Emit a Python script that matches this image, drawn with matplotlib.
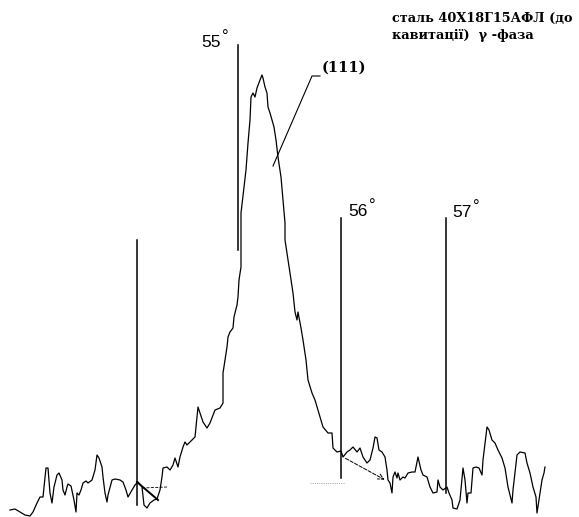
import matplotlib
matplotlib.use("Agg")
import matplotlib.pyplot as plt

# strip-chart position (x) and recorder deflection (intensity, a.u.)
chart_pos = [10, 15, 20, 25, 30, 33, 37, 40, 43, 46, 48, 50, 52, 54, 57, 59, 62, 63, 65, 67,
             68, 71, 73, 74, 76, 77, 79, 81, 83, 86, 88, 92, 95, 97, 99, 102, 103, 105, 107, 108,
             112, 115, 120, 123, 126, 128, 132, 135, 138, 142, 144, 147, 150, 154, 157, 160, 162, 163, 167, 170,
             173, 175, 178, 180, 183, 185, 187, 192, 195, 198, 200, 203, 207, 210, 215, 220, 223, 223, 223, 227,
             228, 230, 233, 234, 237, 238, 239, 241, 241, 241, 246, 248, 250, 251, 253, 255, 257, 260, 262, 263,
             265, 267, 268, 270, 272, 274, 276, 278, 281, 283, 285, 285, 287, 290, 293, 295, 297, 298, 301, 303,
             306, 308, 312, 315, 318, 323, 328, 332, 333, 337, 341, 343, 347, 350, 353, 357, 360, 363, 367, 370,
             373, 375, 377, 379, 382, 385, 387, 388, 390, 392, 393, 395, 397, 398, 400, 403, 405, 408, 412, 415,
             418, 421, 423, 427, 430, 433, 437, 438, 440, 443, 447, 449, 452, 453, 457, 460, 463, 465, 467, 468,
             471, 473, 476, 479, 482, 483, 487, 489, 492, 495, 498, 502, 505, 508, 512, 513, 517, 520, 525, 527,
             530, 533, 536, 537, 539, 542, 544, 545]
intensity = [7, 8, 5, 2, 1, 5, 14, 20, 20, 49, 49, 24, 14, 30, 42, 44, 37, 27, 22, 30,
             33, 31, 22, 17, 5, 24, 22, 27, 34, 36, 34, 37, 47, 62, 59, 50, 40, 24, 15, 22,
             37, 38, 37, 35, 27, 20, 27, 32, 35, 30, 12, 9, 14, 17, 18, 27, 40, 49, 50, 47,
             52, 59, 50, 60, 70, 75, 72, 77, 80, 110, 104, 95, 89, 94, 107, 109, 114, 137, 144, 170,
             180, 185, 189, 200, 212, 220, 237, 250, 277, 304, 347, 374, 397, 420, 424, 420, 429, 437, 442, 439,
             430, 424, 410, 404, 397, 390, 377, 360, 340, 317, 294, 277, 264, 244, 224, 205, 197, 205, 189, 177,
             157, 137, 124, 117, 107, 90, 84, 84, 69, 65, 66, 60, 65, 67, 70, 65, 69, 60, 54, 57,
             69, 80, 79, 67, 65, 60, 47, 37, 34, 24, 40, 45, 39, 44, 37, 40, 39, 44, 45, 45,
             60, 47, 42, 40, 30, 24, 25, 37, 30, 27, 30, 24, 17, 9, 8, 17, 49, 37, 14, 24,
             24, 49, 50, 49, 42, 57, 90, 87, 77, 74, 67, 59, 49, 30, 14, 27, 62, 65, 64, 54,
             44, 30, 20, 4, 17, 37, 44, 50]

# 2-theta reference marks on the chart
mark_pos = [137, 238, 341, 446]
mark_top = [277, 472, 299, 299]
mark_bottom = [12, 267, 39, 24]
mark_labels = ["", "55", "56", "57"]
label_pos = [(0, 0), (201, 470), (348, 301), (452, 300)]

title_lines = ["сталь 40Х18Г15АФЛ (до", "кавитації)  γ -фаза"]

fig = plt.figure(figsize=(5.79, 5.17), dpi=100)
ax = fig.add_axes([0, 0, 1, 1])
ax.set_xlim(0, 579)
ax.set_ylim(0, 517)
ax.axis("off")

ax.plot(chart_pos, intensity, color="black", lw=0.9)

for x, top, bot in zip(mark_pos, mark_top, mark_bottom):
    ax.plot([x, x], [bot, top], color="black", lw=1.1)

for lab, (lx, ly) in zip(mark_labels, label_pos):
    if lab:
        ax.text(lx, ly, lab, family="Liberation Sans", fontsize=12.5, va="baseline", ha="left")
        ax.text(lx + 21, ly + 5, "°", family="Liberation Sans", fontsize=12, va="baseline", ha="left")

# (111) reflection label with leader line
ax.text(322, 445, "(111)", family="DejaVu Serif", weight="bold", fontsize=10.5, va="baseline")
ax.plot([320, 312, 273], [441, 441, 351], color="black", lw=0.8)

# small marks near background level
ax.plot([137, 158], [35, 17], color="black", lw=1.4)
ax.plot([142, 167], [29, 30], color="black", lw=0.6, ls="--")
ax.annotate("", xy=(387, 36), xytext=(343, 60),
            arrowprops=dict(arrowstyle="->", color="black", lw=0.7, ls="--"))
ax.plot([310, 345], [34, 34], color="gray", lw=0.6, ls=":")

ax.text(392, 495, title_lines[0], family="DejaVu Serif", weight="bold", fontsize=9.3, va="baseline")
ax.text(392, 478, title_lines[1], family="DejaVu Serif", weight="bold", fontsize=9.3, va="baseline")

fig.savefig("out.png", dpi=100)
